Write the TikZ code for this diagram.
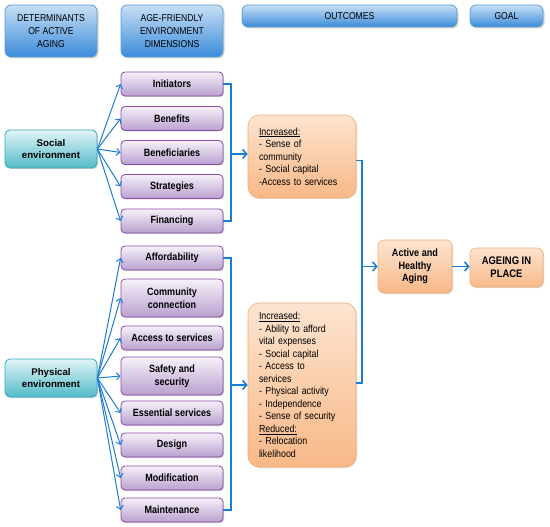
\documentclass[tikz,border=0pt]{standalone}
\usepackage{fontspec}
\setmainfont{Liberation Sans}
\newfontfamily\narrowfont[FakeStretch=0.86]{Liberation Sans}
\usetikzlibrary{arrows.meta,shadows}
\definecolor{conn}{HTML}{1B7CD6}
\definecolor{hdtop}{HTML}{C8DFF5}
\definecolor{hdbot}{HTML}{3A8BDA}
\definecolor{hdbrd}{HTML}{5A9FE0}
\definecolor{tltop}{HTML}{E2F5F7}
\definecolor{tlbot}{HTML}{52BAC8}
\definecolor{tlbrd}{HTML}{36AEBF}
\definecolor{pptop}{HTML}{F6F1F9}
\definecolor{ppbot}{HTML}{B9A0CF}
\definecolor{ppbrd}{HTML}{8A4BAA}
\definecolor{ortop}{HTML}{FDE4D0}
\definecolor{orbot}{HTML}{F8B887}
\definecolor{orbrd}{HTML}{F4AE74}
\tikzset{
  hdr/.style={draw=hdbrd, line width=0.8pt, rounded corners=6pt, top color=hdtop, bottom color=hdbot,
    drop shadow={shadow xshift=1.5pt, shadow yshift=-1.5pt, fill=black!35!olive!40, opacity=0.6},
    font=\narrowfont\fontsize{10}{13}\selectfont, align=center, inner sep=1pt},
  envbox/.style={draw=tlbrd, line width=0.8pt, rounded corners=5pt, top color=tltop, bottom color=tlbot,
    drop shadow={shadow xshift=1pt, shadow yshift=-1pt, fill=black, opacity=0.2},
    font=\bfseries\fontsize{9.7}{12.5}\selectfont, align=center, minimum width=92pt, minimum height=38pt, inner sep=1pt},
  dimbox/.style={draw=ppbrd, line width=0.8pt, rounded corners=4pt, top color=pptop, bottom color=ppbot,
    drop shadow={shadow xshift=1pt, shadow yshift=-1pt, fill=black, opacity=0.2},
    font=\narrowfont\bfseries\fontsize{10.5}{12.8}\selectfont, align=center, minimum width=102pt, minimum height=24pt, inner sep=1pt},
  outbox/.style={draw=orbrd, line width=0.6pt, rounded corners=11pt, top color=ortop, bottom color=orbot,
    drop shadow={shadow xshift=1pt, shadow yshift=-1pt, fill=black, opacity=0.15},
    font=\narrowfont\fontsize{10.3}{12.5}\selectfont, align=left, minimum width=108pt, text width=86pt, inner xsep=11pt},
  goalbox/.style={draw=orbrd, line width=0.6pt, rounded corners=6pt, top color=ortop, bottom color=orbot,
    drop shadow={shadow xshift=1pt, shadow yshift=-1pt, fill=black, opacity=0.15},
    font=\narrowfont\bfseries\fontsize{10.6}{12.7}\selectfont, align=center, inner sep=1pt},
  fan/.style={draw=conn, line width=1pt, -{Straight Barb[length=3.5pt,width=7pt]}},
  brk/.style={draw=conn, line width=1.8pt},
  barr/.style={draw=conn, line width=1.8pt, -{Straight Barb[length=4pt,width=9pt,line width=1.6pt]}}
}
\begin{document}
\begin{tikzpicture}[x=1pt,y=-1pt]
\useasboundingbox (0,0) rectangle (550,527);
% headers
\node[hdr, minimum width=92pt, minimum height=52pt] (h1) at (51,31) {DETERMINANTS\\OF ACTIVE\\AGING};
\node[hdr, minimum width=102pt, minimum height=52pt] (h2) at (172,31) {AGE-FRIENDLY\\ENVIRONMENT\\DIMENSIONS};
\node[hdr, minimum width=215pt, minimum height=22pt] (h3) at (349.5,16) {OUTCOMES};
\node[hdr, minimum width=73pt, minimum height=22pt] (h4) at (506.5,16) {GOAL};
% environments
\node[envbox] (soc) at (51,149) {Social\\environment};
\node[envbox] (phy) at (51,378) {Physical\\environment};
% social dimensions
\node[dimbox] (s1) at (172,84) {Initiators};
\node[dimbox] (s2) at (172,118.5) {Benefits};
\node[dimbox] (s3) at (172,152.5) {Beneficiaries};
\node[dimbox] (s4) at (172,186.5) {Strategies};
\node[dimbox] (s5) at (172,221) {Financing};
% physical dimensions
\node[dimbox] (p1) at (172,258) {Affordability};
\node[dimbox, minimum height=38pt] (p2) at (172,298) {Community\\connection};
\node[dimbox] (p3) at (172,338) {Access to services};
\node[dimbox, minimum height=38pt] (p4) at (172,376) {Safety and\\security};
\node[dimbox] (p5) at (172,413) {Essential services};
\node[dimbox] (p6) at (172,445) {Design};
\node[dimbox] (p7) at (172,478) {Modification};
\node[dimbox] (p8) at (172,510) {Maintenance};
% outcomes
\node[outbox, minimum height=83pt] (o1) at (302,156.5) {\underline{Increased:}\\- Sense of\\community\\- Social capital\\-Access to services};
\node[outbox, minimum height=164pt] (o2) at (302,385) {\underline{Increased:}\\- Ability to afford\\vital expenses\\- Social capital\\- Access to\\services\\- Physical activity\\- Independence\\- Sense of security\\\underline{Reduced:}\\- Relocation\\likelihood};
\node[goalbox, minimum width=74pt, minimum height=53pt] (act) at (415,266.5) {Active and\\Healthy\\Aging};
\node[goalbox, minimum width=73pt, minimum height=39pt, font=\narrowfont\bfseries\fontsize{11}{13}\selectfont] (aip) at (506.5,267.5) {AGEING IN\\PLACE};
% fans
\foreach \t in {s1,s2,s3,s4,s5} \draw[fan] (soc.east) -- (\t.west);
\foreach \t in {p1,p2,p3,p4,p5,p6,p7,p8} \draw[fan] (phy.east) -- (\t.west);
% brackets
\coordinate (b1) at (231,154);
\coordinate (b2) at (231,385);
\draw[brk] (s1.east) -| (231,221) -- (s5.east);
\draw[barr] (b1) -- (o1.west |- b1);
\draw[brk] (p1.east) -| (231,510) -- (p8.east);
\draw[barr] (b2) -- (o2.west |- b2);
\coordinate (b3) at (362,266.5);
\draw[brk] ([yshift=-4pt]o1.east) -| (362,383) -- (o2.east |- 0,383);
\draw[barr] (b3) -- (act.west |- b3);
\draw[barr] (act.east) -- (aip.west |- act.east);
\end{tikzpicture}
\end{document}
